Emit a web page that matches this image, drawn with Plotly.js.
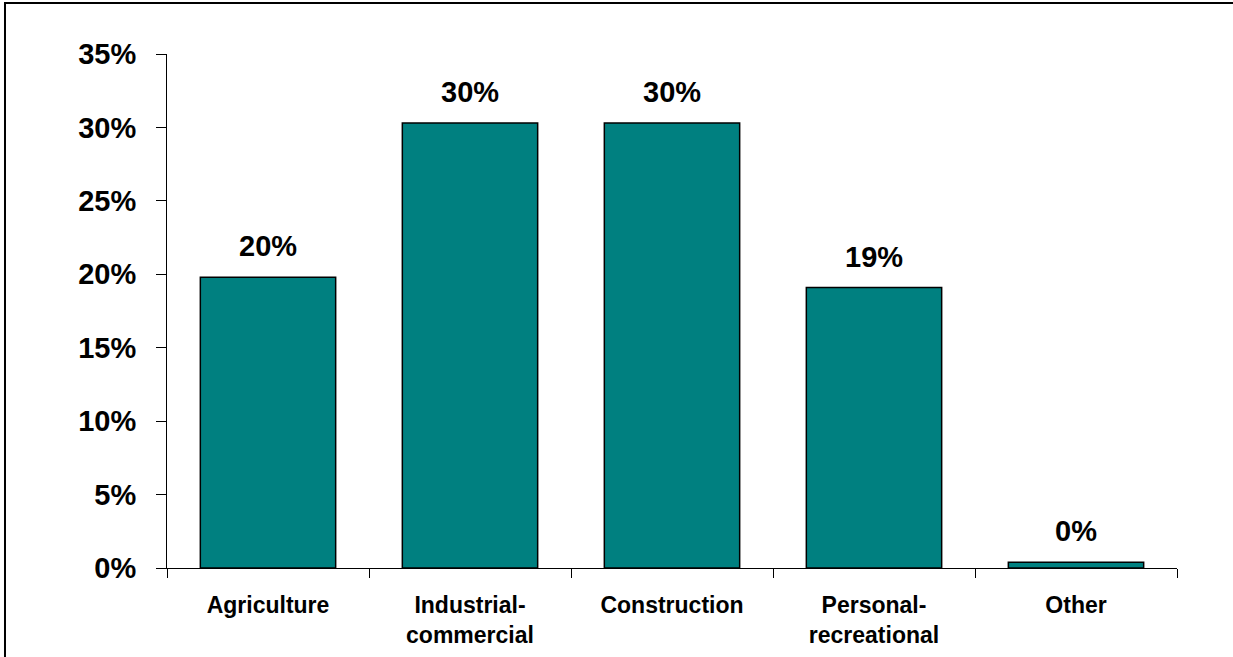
<!DOCTYPE html>
<html>
<head>
<meta charset="utf-8">
<script src="https://cdn.plot.ly/plotly-3.0.1.min.js"></script>
<style>
html,body{margin:0;padding:0;background:#fff;}
#chart{width:1233px;height:657px;}
</style>
</head>
<body>
<div id="chart"></div>
<script>
const categories = ["Agriculture", "Industrial-<br>commercial", "Construction", "Personal-<br>recreational", "Other"];
const shares = [19.8, 30.3, 30.3, 19.1, 0.4];
const shareLabels = ["20%", "30%", "30%", "19%", "0%"];
const yTickValues = [0, 5, 10, 15, 20, 25, 30, 35];
const yTickLabels = ["0%", "5%", "10%", "15%", "20%", "25%", "30%", "35%"];

const fontFamily = "Arial, 'Liberation Sans', sans-serif";

const trace = {
  type: "bar",
  x: categories,
  y: shares,
  marker: {color: "#008080", line: {color: "#000", width: 1.5}},
  hoverinfo: "none"
};

const labelAnnotations = categories.map((c, i) => ({
  x: c,
  y: shares[i],
  xref: "x",
  yref: "y",
  text: shareLabels[i],
  showarrow: false,
  yanchor: "bottom",
  yshift: 13,
  font: {family: fontFamily, size: 29, color: "#000", weight: "bold"}
}));

const layout = {
  width: 1233,
  height: 657,
  margin: {l: 167, r: 56, t: 54, b: 89, pad: 0},
  paper_bgcolor: "#fff",
  plot_bgcolor: "#fff",
  showlegend: false,
  bargap: 0.33,
  font: {family: fontFamily, color: "#000"},
  xaxis: {
    type: "category",
    showline: true,
    linecolor: "#000",
    linewidth: 1,
    ticks: "outside",
    tickson: "boundaries",
    ticklen: 9,
    tickcolor: "#000",
    showgrid: false,
    zeroline: false,
    tickfont: {family: fontFamily, size: 23, color: "#000", weight: "bold"},
    ticklabelstandoff: 16,
    fixedrange: true
  },
  yaxis: {
    range: [0, 35],
    tickvals: yTickValues,
    ticktext: yTickLabels,
    showline: true,
    linecolor: "#000",
    linewidth: 1,
    ticks: "outside",
    ticklen: 10,
    tickcolor: "#000",
    showgrid: false,
    zeroline: false,
    tickfont: {family: fontFamily, size: 29, color: "#000", weight: "bold"},
    ticklabelstandoff: 14,
    fixedrange: true
  },
  annotations: labelAnnotations,
  shapes: [{
    type: "rect",
    xref: "paper", yref: "paper",
    x0: -0.1604, x1: 1.0574, y0: -0.3, y1: 1.0992,
    line: {color: "#000", width: 2},
    fillcolor: "rgba(0,0,0,0)",
    layer: "below"
  }]
};

Plotly.newPlot("chart", [trace], layout, {displayModeBar: false, staticPlot: true});
</script>
</body>
</html>
